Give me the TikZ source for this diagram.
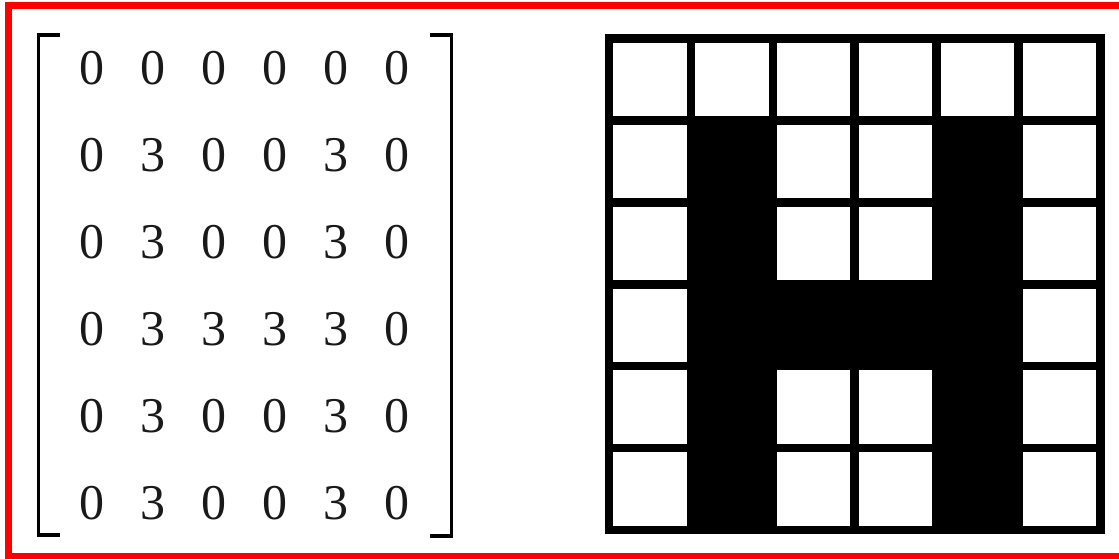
\documentclass[tikz,border=0pt]{standalone}
\usepackage{fontspec}
\setmainfont{Liberation Serif}
\tikzset{
  % outer frame
  redframe/.style={draw=red,line width=7.5pt},
  % matrix entries and brackets
  entry/.style={font=\fontsize{50}{50}\selectfont,inner sep=0pt,text=black!90},
  brkt/.style={line width=3.5pt},
  % pixel grid
  gridline/.style={line width=8.5pt},
  pixon/.style={fill=black},
}

\begin{document}
\begin{tikzpicture}[x=1pt,y=-1pt]
\clip (0,0) rectangle (1119,558);
\fill[white] (0,0) rectangle (1119,558);
\draw[redframe] (8.5,5.5) rectangle (1125,556.5);

%% brackets
\draw[brkt] (60,35) -- (38.5,35) -- (38.5,535) -- (60,535);
\draw[brkt] (430,35) -- (451.5,35) -- (451.5,536) -- (430,536);

%% entries
\foreach \row [count=\r] in {{0,0,0,0,0,0},{0,3,0,0,3,0},{0,3,0,0,3,0},
                             {0,3,3,3,3,0},{0,3,0,0,3,0},{0,3,0,0,3,0}}{
  \foreach \v [count=\c] in \row{
    \node[entry] (e\r\c) at ({92+61*(\c-1)},{68+87*(\r-1)}) {\v};
  }
}

%% grid (origin, cell size)
\def\gx{609}
\def\gy{38.6}
\def\gs{81.9}
\fill[pixon] ({\gx+\gs},{\gy+\gs}) rectangle ({\gx+2*\gs},{\gy+6*\gs});
\fill[pixon] ({\gx+4*\gs},{\gy+\gs}) rectangle ({\gx+5*\gs},{\gy+6*\gs});
\fill[pixon] ({\gx+\gs},{\gy+3*\gs}) rectangle ({\gx+5*\gs},{\gy+4*\gs});
\foreach \i in {1,...,5}{
  \draw[gridline] ({\gx+\i*\gs},\gy) -- ({\gx+\i*\gs},{\gy+6*\gs});
  \draw[gridline] (\gx,{\gy+\i*\gs}) -- ({\gx+6*\gs},{\gy+\i*\gs});
}
\draw[gridline] (\gx,\gy) rectangle ({\gx+6*\gs},{\gy+6*\gs});
\end{tikzpicture}
\end{document}
